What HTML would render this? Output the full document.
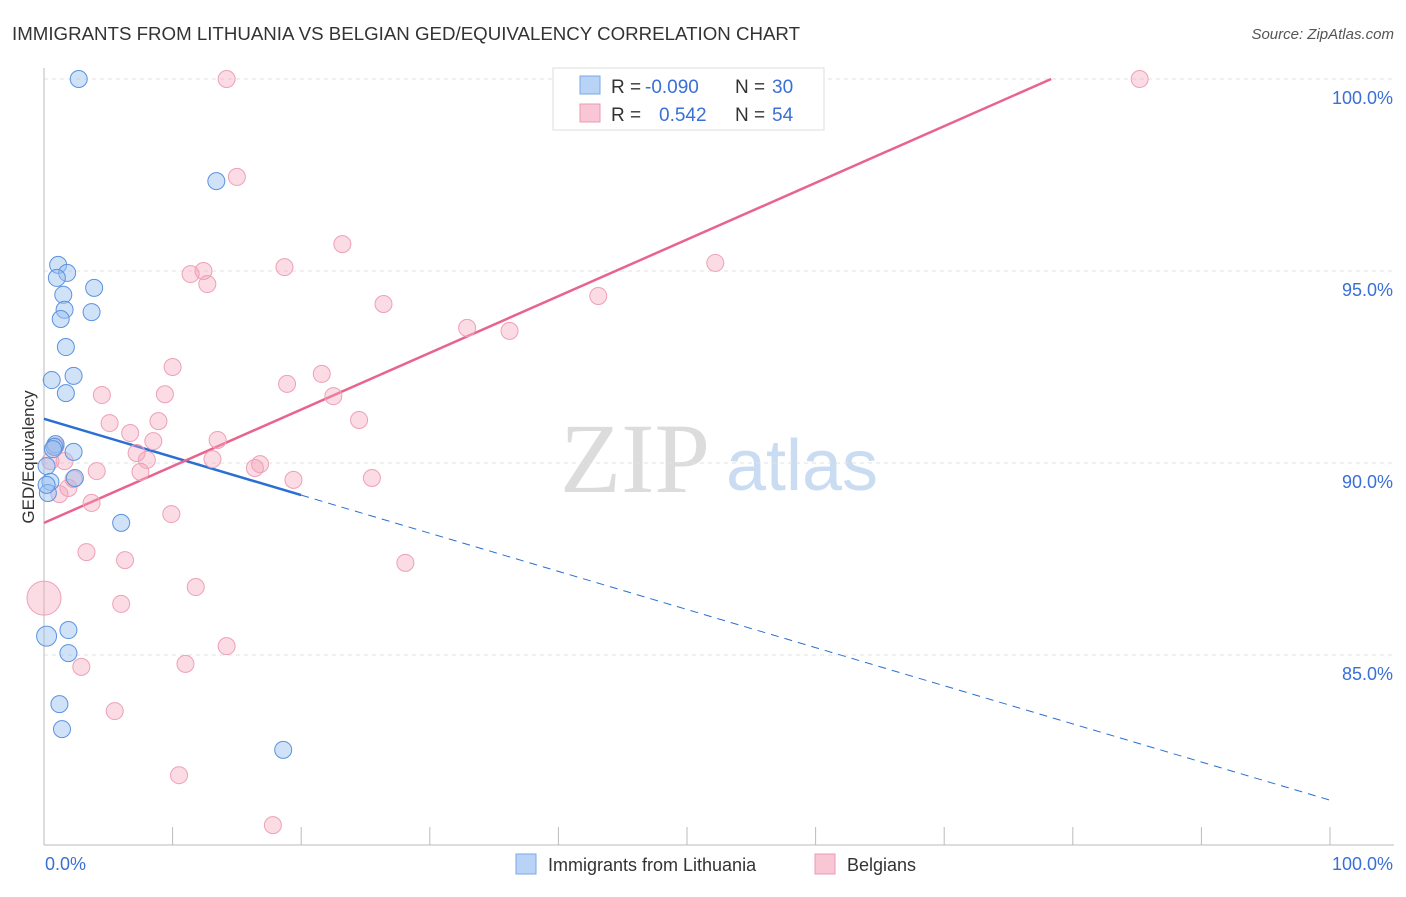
<!DOCTYPE html>
<html><head><meta charset="utf-8"><style>
body{margin:0;background:#fff;font-family:"Liberation Sans",sans-serif;}
svg text{font-family:"Liberation Sans",sans-serif;}
</style></head><body>
<svg id="chart" width="1406" height="892">
<text x="12" y="40" font-size="18" fill="#333" textLength="788" lengthAdjust="spacingAndGlyphs">IMMIGRANTS FROM LITHUANIA VS BELGIAN GED/EQUIVALENCY CORRELATION CHART</text>
<text x="1394" y="39" font-size="15" fill="#555" font-style="italic" text-anchor="end">Source: ZipAtlas.com</text>
<text x="635" y="492" font-size="100" fill="#dcdcdc" style="font-family:'Liberation Serif'" text-anchor="middle">ZIP</text>
<text x="802" y="490" font-size="72" fill="#cadcf1" text-anchor="middle">atlas</text>
<g id="grid"></g><g id="axes"></g><g id="lines"></g><g id="pts"></g>
<text transform="translate(34,457) rotate(-90)" font-size="17" fill="#333" text-anchor="middle">GED/Equivalency</text>
<g>
<rect x="553" y="68" width="271" height="62" fill="#fff" stroke="#ddd"/>
<rect x="580" y="76" width="20" height="18" fill="#b8d3f5" stroke="#7aa8e6"/>
<rect x="580" y="104" width="20" height="18" fill="#f9c6d5" stroke="#eb9ab3"/>
<text x="611" y="93" font-size="19" fill="#333">R =</text>
<text x="645" y="93" font-size="19" fill="#3a6fd6">-0.090</text>
<text x="735" y="93" font-size="19" fill="#333">N =</text>
<text x="772" y="93" font-size="19" fill="#3a6fd6">30</text>
<text x="611" y="121" font-size="19" fill="#333">R =</text>
<text x="659" y="121" font-size="19" fill="#3a6fd6">0.542</text>
<text x="735" y="121" font-size="19" fill="#333">N =</text>
<text x="772" y="121" font-size="19" fill="#3a6fd6">54</text>
</g>
<g>
<rect x="516" y="854" width="20" height="20" fill="#b8d3f5" stroke="#7aa8e6"/>
<text x="548" y="871" font-size="18" fill="#333">Immigrants from Lithuania</text>
<rect x="815" y="854" width="20" height="20" fill="#f9c6d5" stroke="#eb9ab3"/>
<text x="847" y="871" font-size="18" fill="#333">Belgians</text>
</g>
</svg>
<script>
const blueX=[2.7,13.4,1.1,1.8,1.0,3.9,1.5,1.6,3.7,1.3,1.7,0.6,2.3,1.7,0.9,0.8,2.3,0.2,2.4,0.5,0.3,6.0,0.2,1.9,1.9,1.2,1.4,18.6,0.7,0.2];
const blueY=[100,97.34,95.16,94.95,94.82,94.56,94.38,93.99,93.93,93.75,93.02,92.16,92.27,91.82,90.49,90.42,90.29,89.92,89.61,89.51,89.22,88.44,85.49,85.65,85.05,83.72,83.07,82.53,90.36,89.43];
const pinkX=[14.2,85.2,15.0,23.2,18.7,12.4,11.4,12.7,52.2,43.1,26.4,32.9,36.2,10.0,21.6,18.9,9.4,4.5,22.5,5.1,8.9,24.5,6.7,8.5,13.5,7.2,8.0,1.6,13.1,16.8,16.4,4.1,7.5,19.4,25.5,2.3,1.9,1.2,3.7,9.9,3.3,6.3,28.1,0.0,11.8,6.0,14.2,11.0,2.9,5.5,10.5,17.8,0.9,0.5];
const pinkY=[100,100,97.45,95.70,95.10,95.00,94.92,94.66,95.21,94.35,94.14,93.52,93.44,92.50,92.32,92.06,91.79,91.77,91.74,91.04,91.09,91.12,90.78,90.57,90.60,90.26,90.08,90.05,90.10,89.97,89.87,89.79,89.77,89.56,89.61,89.58,89.35,89.19,88.96,88.67,87.68,87.47,87.40,86.48,86.77,86.33,85.23,84.77,84.69,83.54,81.87,80.57,90.44,90.05];
const trendBlue=[91.15,81.22];
const trendPink=[88.44,103.2];
const xTicks=[0,10,20,30,40,50,60,70,80,90,100];
const yTicks=[85,90,95,100];
const yTickLabels=["85.0%","90.0%","95.0%","100.0%"];
const X=v=>44+v*12.86, Y=v=>79+(100-v)*38.4;
const ns="http://www.w3.org/2000/svg";
function mk(parent,tag,attrs){const e=document.createElementNS(ns,tag);for(const k in attrs)e.setAttribute(k,attrs[k]);document.getElementById(parent).appendChild(e);return e;}
yTicks.forEach((t,i)=>{
 const g=mk('grid','line',{x1:44,x2:1394,y1:Y(t),y2:Y(t),stroke:'#e2e2e2','stroke-dasharray':'4,4'});
 
 
 const l=mk('axes','text',{x:1393,y:Y(t)+25,'font-size':18,fill:'#3a6fd6','text-anchor':'end'});l.textContent=yTickLabels[i];
 
 
});
let a=mk('axes','line',{x1:44,x2:44,y1:68,y2:845,stroke:'#bbb'});


a=mk('axes','line',{x1:44,x2:1394,y1:845,y2:845,stroke:'#bbb'});


xTicks.forEach(t=>{const e=mk('axes','line',{x1:X(t),x2:X(t),y1:827,y2:845,stroke:'#bbb'});
 
 });
let t=mk('axes','text',{x:45,y:870,'font-size':18,fill:'#3a6fd6'});t.textContent='0.0%';


t=mk('axes','text',{x:1393,y:870,'font-size':18,fill:'#3a6fd6','text-anchor':'end'});t.textContent='100.0%';


const bl=v=>trendBlue[0]+(trendBlue[1]-trendBlue[0])*v/100;
const pl=v=>trendPink[0]+(trendPink[1]-trendPink[0])*v/100;
let e=mk('lines','line',{x1:X(0),y1:Y(bl(0)),x2:X(20),y2:Y(bl(20)),stroke:'#2a6fd1','stroke-width':2.5});


e=mk('lines','line',{x1:X(20),y1:Y(bl(20)),x2:X(100),y2:Y(bl(100)),stroke:'#2a6fd1','stroke-width':1,'stroke-dasharray':'8,6'});


const pEnd=(100-trendPink[0])/(trendPink[1]-trendPink[0])*100;
e=mk('lines','line',{x1:X(0),y1:Y(pl(0)),x2:X(pEnd),y2:Y(100),stroke:'#e8648d','stroke-width':2.5});


pinkX.forEach((x,i)=>{const c=mk('pts','circle',{cx:X(x),cy:Y(pinkY[i]),r:(i==43?17:8.5),fill:'rgba(244,160,185,0.38)',stroke:'#eea0b8','stroke-width':1});
 
 });
blueX.forEach((x,i)=>{const c=mk('pts','circle',{cx:X(x),cy:Y(blueY[i]),r:(i==22?10:8.5),fill:'rgba(150,190,240,0.45)',stroke:'#5b93e0','stroke-width':1});
 
 });
</script>
</body></html>
